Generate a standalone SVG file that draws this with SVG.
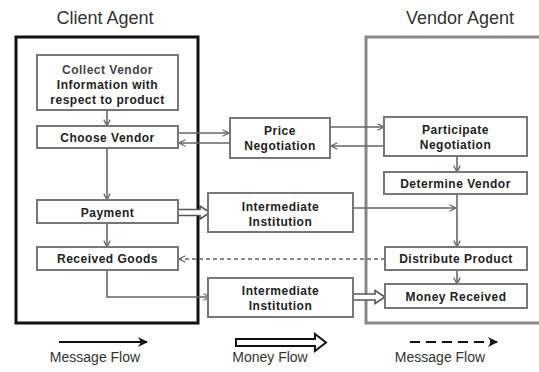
<svg xmlns="http://www.w3.org/2000/svg" width="539" height="372" viewBox="0 0 539 372">
  <defs>
    <style>
      .title { font-family: "Liberation Sans", Arial, sans-serif; font-size: 18px; fill: #333; text-anchor: middle; }
      .lbl { font-family: "Liberation Sans", Arial, sans-serif; font-size: 12px; font-weight: bold; fill: #222; text-anchor: middle; letter-spacing: 0.5px; }
      .lbl.soft { fill: #444; }
      .leg { font-family: "Liberation Sans", Arial, sans-serif; font-size: 14px; fill: #333; text-anchor: middle; }
      .box { fill: #fff; stroke: #777; stroke-width: 2; }
      .msg { fill: none; stroke: #666; stroke-width: 1.6; }
      .dash { fill: none; stroke: #666; stroke-width: 1.4; stroke-dasharray: 4 3; }
      .money { fill: #fff; stroke: #555; stroke-width: 1.6; stroke-linejoin: miter; }
    </style>
    <marker id="open" viewBox="0 0 10 10" refX="9" refY="5" markerWidth="8" markerHeight="8" markerUnits="userSpaceOnUse" orient="auto">
      <path d="M1,1 L9,5 L1,9" fill="none" stroke="#666" stroke-width="1.6"/>
    </marker>
    <marker id="solid" viewBox="0 0 10 10" refX="9" refY="5" markerWidth="10" markerHeight="10" markerUnits="userSpaceOnUse" orient="auto">
      <path d="M0,0 L10,5 L0,10 L3,5 Z" fill="#111"/>
    </marker>
  </defs>

  <!-- agent frames -->
  <g id="client-agent">
    <text class="title" x="105" y="24">Client Agent</text>
    <rect x="16" y="37" width="182" height="286" fill="none" stroke="#111" stroke-width="3"/>
  </g>
  <g id="vendor-agent">
    <text class="title" x="460" y="24">Vendor Agent</text>
    <path d="M545,37 H366 V323 H545" fill="none" stroke="#888" stroke-width="3"/>
  </g>

  <!-- connectors -->
  <g id="connectors">
    <!-- client internal flow -->
    <line class="msg" x1="107" y1="110" x2="107" y2="126" marker-end="url(#open)"/>
    <line class="msg" x1="107" y1="148" x2="107" y2="200" marker-end="url(#open)"/>
    <line class="msg" x1="107" y1="223" x2="107" y2="247" marker-end="url(#open)"/>
    <polyline class="msg" points="107,270 107,297 210,297" marker-end="url(#open)"/>
    <!-- negotiation exchange -->
    <line class="msg" x1="178" y1="133" x2="229" y2="133" marker-end="url(#open)"/>
    <line class="msg" x1="230" y1="143" x2="179" y2="143" marker-end="url(#open)"/>
    <line class="msg" x1="330" y1="127" x2="384" y2="127" marker-end="url(#open)"/>
    <line class="msg" x1="384" y1="146" x2="331" y2="146" marker-end="url(#open)"/>
    <!-- vendor internal flow -->
    <line class="msg" x1="457" y1="156" x2="457" y2="172" marker-end="url(#open)"/>
    <line class="msg" x1="457" y1="194" x2="457" y2="247" marker-end="url(#open)"/>
    <line class="msg" x1="457" y1="270" x2="457" y2="284" marker-end="url(#open)"/>
    <line class="msg" x1="353" y1="208" x2="456" y2="208" marker-end="url(#open)"/>
    <!-- goods notification -->
    <line class="dash" x1="385" y1="259" x2="179" y2="259" marker-end="url(#open)"/>
    <!-- money flows -->
    <polygon class="money" points="178,209.5 200,209.5 200,206 210,212.5 200,219 200,215.5 178,215.5"/>
    <polygon class="money" points="353,294 375,294 375,290.5 385,297 375,303.5 375,300 353,300"/>
  </g>

  <!-- client nodes -->
  <g id="collect-vendor-info">
    <rect class="box" x="37" y="55" width="141" height="55"/>
    <text class="lbl soft" x="107.5" y="74">Collect Vendor</text>
    <text class="lbl" x="107.5" y="89">Information with</text>
    <text class="lbl" x="107.5" y="104">respect to product</text>
  </g>
  <g id="choose-vendor">
    <rect class="box" x="37" y="126" width="141" height="22"/>
    <text class="lbl" x="107.5" y="142">Choose Vendor</text>
  </g>
  <g id="payment">
    <rect class="box" x="37" y="200" width="141" height="23"/>
    <text class="lbl" x="107.5" y="217">Payment</text>
  </g>
  <g id="received-goods">
    <rect class="box" x="37" y="247" width="141" height="23"/>
    <text class="lbl" x="107.5" y="263">Received Goods</text>
  </g>

  <!-- intermediary nodes -->
  <g id="price-negotiation">
    <rect class="box" x="230" y="118" width="100" height="40"/>
    <text class="lbl" x="280" y="135">Price</text>
    <text class="lbl" x="280" y="150">Negotiation</text>
  </g>
  <g id="intermediate-institution-1">
    <rect class="box" x="208" y="193" width="145" height="39"/>
    <text class="lbl" x="280.5" y="211">Intermediate</text>
    <text class="lbl" x="280.5" y="226">Institution</text>
  </g>
  <g id="intermediate-institution-2">
    <rect class="box" x="208" y="278" width="145" height="39"/>
    <text class="lbl" x="280.5" y="295">Intermediate</text>
    <text class="lbl" x="280.5" y="310">Institution</text>
  </g>

  <!-- vendor nodes -->
  <g id="participate-negotiation">
    <rect class="box" x="384" y="117" width="143" height="39"/>
    <text class="lbl" x="455.5" y="134">Participate</text>
    <text class="lbl" x="455.5" y="149">Negotiation</text>
  </g>
  <g id="determine-vendor">
    <rect class="box" x="384" y="172" width="143" height="22"/>
    <text class="lbl" x="455.5" y="188">Determine Vendor</text>
  </g>
  <g id="distribute-product">
    <rect class="box" x="385" y="247" width="142" height="23"/>
    <text class="lbl" x="456" y="263">Distribute Product</text>
  </g>
  <g id="money-received">
    <rect class="box" x="385" y="284" width="142" height="24"/>
    <text class="lbl" x="456" y="301">Money Received</text>
  </g>

  <!-- legend -->
  <g id="legend">
    <line x1="59" y1="342" x2="147" y2="342" stroke="#111" stroke-width="2" marker-end="url(#solid)"/>
    <text class="leg" x="95" y="362">Message Flow</text>
    <polygon points="236,339 315,339 315,334 326,342.5 315,351 315,346 236,346" fill="#fff" stroke="#111" stroke-width="2"/>
    <text class="leg" x="270" y="362">Money Flow</text>
    <line x1="410" y1="342" x2="497" y2="342" stroke="#111" stroke-width="2" stroke-dasharray="10 6" marker-end="url(#solid)"/>
    <text class="leg" x="440" y="362">Message Flow</text>
  </g>
</svg>
